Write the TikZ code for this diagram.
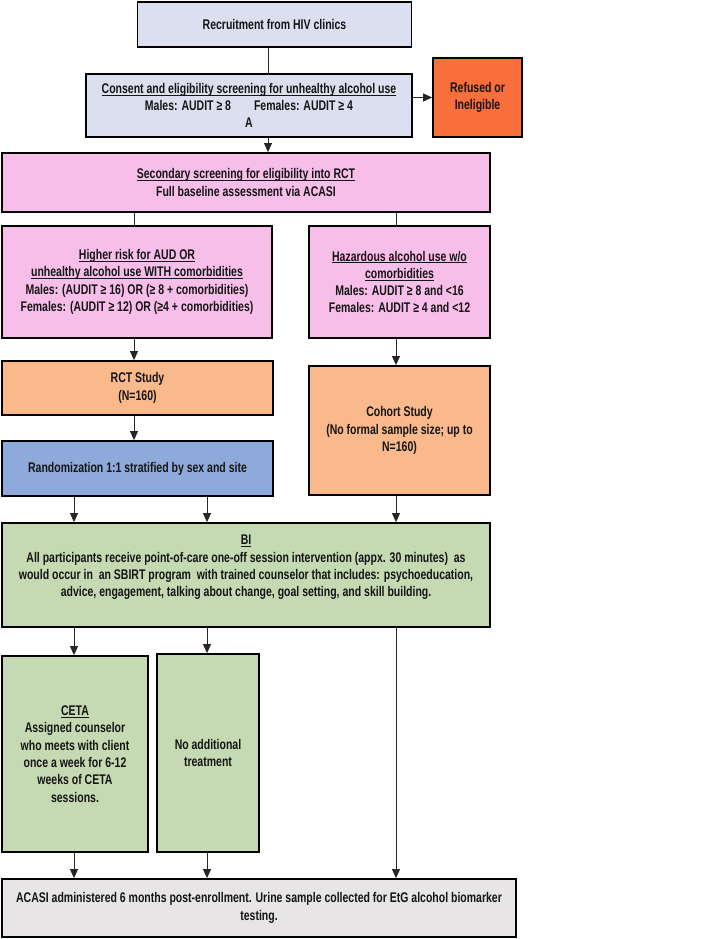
\documentclass[tikz,border=0pt]{standalone}
\usepackage{fontspec}
\setmainfont{Liberation Sans}[FakeStretch=0.75]
\usetikzlibrary{arrows.meta}
\definecolor{cLav}{HTML}{DCDFF0}
\definecolor{cRed}{HTML}{FA6E3C}
\definecolor{cPink}{HTML}{F8BEEA}
\definecolor{cSal}{HTML}{FAB98B}
\definecolor{cBlue}{HTML}{8EAADB}
\definecolor{cGreen}{HTML}{C5DAB3}
\definecolor{cGray}{HTML}{E7E5E6}
\definecolor{cTxt}{HTML}{151515}
\newsavebox{\myulbox}
\newcommand{\ulx}[1]{\sbox{\myulbox}{#1}\rlap{\rule[-2.2pt]{\wd\myulbox}{0.8pt}}\usebox{\myulbox}}
\tikzset{
  box/.style={draw=black, line width=1.8pt, inner sep=0pt, align=center,
    font=\fontsize{14}{17.3}\selectfont\bfseries, text=cTxt},
  txt/.style={inner sep=0pt, align=center,
    font=\fontsize{14}{17.3}\selectfont\bfseries, text=cTxt},
  conn/.style={line width=0.9pt, draw=black!85},
  arr/.style={conn, -{Triangle[length=9pt,width=8pt]}},
}
\begin{document}
\begin{tikzpicture}[x=1pt,y=-1pt]
\useasboundingbox (0,0) rectangle (705,939);
\coordinate (xA) at (268,0);
\coordinate (xL) at (134,0);
\coordinate (xR) at (396,0);
\coordinate (xC1) at (74,0);
\coordinate (xC2) at (207,0);

\node[box, fill=cLav, minimum width=274pt, minimum height=45pt] (b1) at (274.5,24.5) {Recruitment from HIV clinics};
\node[box, fill=cLav, minimum width=326pt, minimum height=63pt] (b2) at (249,105.5)
  {\ulx{Consent and eligibility screening for unhealthy alcohol use}\\Males: AUDIT ≥ 8\hspace{23pt}Females: AUDIT ≥ 4\\A};
\node[box, fill=cRed, minimum width=89pt, minimum height=79pt] (ref) at (477.5,97.5) {Refused or\\Ineligible};
\node[box, fill=cPink, minimum width=488pt, minimum height=59pt] (b3) at (246,182.5)
  {\ulx{Secondary screening for eligibility into RCT}\\Full baseline assessment via ACASI};
\node[box, fill=cPink, minimum width=270pt, minimum height=112pt] (b4a) at (137,282)
  {\ulx{Higher risk for AUD OR}\\\ulx{unhealthy alcohol use WITH comorbidities}\\Males: (AUDIT ≥ 16) OR (≥ 8 + comorbidities)\\Females: (AUDIT ≥ 12) OR (≥4 + comorbidities)};
\node[box, fill=cPink, minimum width=181pt, minimum height=112pt] (b4b) at (399.5,282)
  {\ulx{Hazardous alcohol use w/o}\\\ulx{comorbidities}\\Males: AUDIT ≥ 8 and <16\\Females: AUDIT ≥ 4 and <12};
\node[box, fill=cSal, minimum width=271pt, minimum height=54pt] (rct) at (137.5,388) {RCT Study\\(N=160)};
\node[box, fill=cBlue, minimum width=271pt, minimum height=55pt] (rand) at (137.5,468.5) {Randomization 1:1 stratified by sex and site};
\node[box, fill=cSal, minimum width=181pt, minimum height=129pt] (coh) at (399.5,430.5)
  {Cohort Study\\(No formal sample size; up to\\N=160)};
\node[box, fill=cGreen, minimum width=488pt, minimum height=104pt] (bi) at (246,575) {};
\node[txt] (bitxt) at (246,567.5)
  {\ulx{BI}\\All participants receive point-of-care one-off session intervention (appx. 30 minutes)\ \ as\\would occur in\ \ an SBIRT program\ \ with trained counselor that includes: psychoeducation,\\advice, engagement, talking about change, goal setting, and skill building.};
\node[box, fill=cGreen, minimum width=146pt, minimum height=196pt] (ceta) at (75,754)
  {\ulx{CETA}\\Assigned counselor\\who meets with client\\once a week for 6-12\\weeks of CETA\\sessions.};
\node[box, fill=cGreen, minimum width=102pt, minimum height=198pt] (noadd) at (208,753) {No additional\\treatment};
\node[box, fill=cGray, minimum width=514pt, minimum height=58pt] (fin) at (259,908)
  {ACASI administered 6 months post-enrollment. Urine sample collected for EtG alcohol biomarker\\testing.};

\draw[conn] (b1.south -| xA) -- (b2.north -| xA);
\draw[arr] (b2.east |- ref.west) -- (ref.west);
\draw[arr] (b2.south -| xA) -- (b3.north -| xA);
\draw[conn] (b3.south -| xL) -- (b4a.north -| xL);
\draw[conn] (b3.south -| xR) -- (b4b.north -| xR);
\draw[arr] (b4a.south -| xL) -- (rct.north -| xL);
\draw[arr] (rct.south -| xL) -- (rand.north -| xL);
\draw[arr] (b4b.south -| xR) -- (coh.north -| xR);
\draw[arr] (rand.south -| xC1) -- (bi.north -| xC1);
\draw[arr] (rand.south -| xC2) -- (bi.north -| xC2);
\draw[arr] (coh.south -| xR) -- (bi.north -| xR);
\draw[arr] (bi.south -| xC1) -- (ceta.north -| xC1);
\draw[arr] (bi.south -| xC2) -- (noadd.north -| xC2);
\draw[arr] (bi.south -| xR) -- (fin.north -| xR);
\draw[arr] (ceta.south -| xC1) -- (fin.north -| xC1);
\draw[arr] (noadd.south -| xC2) -- (fin.north -| xC2);
\end{tikzpicture}
\end{document}
